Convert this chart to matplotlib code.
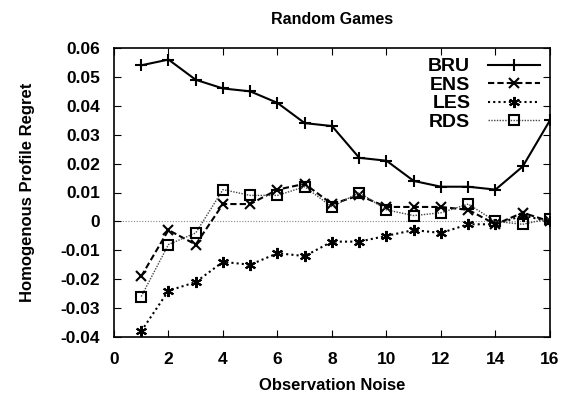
import matplotlib.pyplot as plt
import numpy as np

noise = list(range(1, 17))
bru = [0.054, 0.056, 0.049, 0.046, 0.045, 0.041, 0.034, 0.033, 0.022, 0.021, 0.014, 0.012, 0.012, 0.011, 0.019, 0.035]
ens = [-0.019, -0.003, -0.008, 0.006, 0.006, 0.011, 0.013, 0.006, 0.009, 0.005, 0.005, 0.005, 0.004, -0.001, 0.003, 0.0]
les = [-0.038, -0.024, -0.021, -0.014, -0.015, -0.011, -0.012, -0.007, -0.007, -0.005, -0.003, -0.004, -0.001, -0.001, 0.002, 0.0]
rds = [-0.026, -0.008, -0.004, 0.011, 0.009, 0.009, 0.012, 0.005, 0.010, 0.004, 0.002, 0.003, 0.006, 0.0, -0.001, 0.001]

plt.rcParams['font.family'] = 'Liberation Sans'
plt.rcParams['font.weight'] = 'bold'

fig = plt.figure(figsize=(5.71, 4.0), dpi=100)
ax = fig.add_axes([0.1996, 0.1575, 0.7636, 0.7225])

ax.axhline(0, color='#888888', lw=0.8, ls=(0, (1, 1.5)), zorder=1)
ax.plot(noise, bru, color='black', lw=1.5, ls='-', marker='+', ms=9, mew=1.5, label='BRU')
ax.plot(noise, ens, color='black', lw=1.5, ls=(0, (3, 1.5)), marker='x', ms=7, mew=1.5, label='ENS')
ax.plot(noise, les, color='black', lw=1.5, ls=(0, (1, 1.5)), marker=(6, 2, 0), ms=8, mew=1.5, label='LES')
ax.plot(noise, rds, color='#444444', lw=1.0, ls=(0, (1, 1)), marker='s', ms=7, mew=1.5,
        mfc='none', mec='black', label='RDS')

ax.set_xlim(0, 16)
ax.set_ylim(-0.04, 0.06)
ax.set_xticks(np.arange(0, 17, 2))
ax.set_yticks(np.arange(-0.04, 0.061, 0.01))
ax.set_yticklabels(['-0.04', '-0.03', '-0.02', '-0.01', '0', '0.01', '0.02', '0.03', '0.04', '0.05', '0.06'])
ax.tick_params(direction='in', top=True, right=True, labelsize=12.5, length=5)
ax.tick_params(axis='x', pad=11)
ax.tick_params(axis='y', pad=10)
for s in ax.spines.values():
    s.set_linewidth(1.2)

ax.set_title('Random Games', fontsize=11.5, fontweight='bold', pad=17)
ax.set_xlabel('Observation Noise', fontsize=12, fontweight='bold', labelpad=8)
ax.set_ylabel('Homogenous Profile Regret', fontsize=12, fontweight='bold', labelpad=18)

ax.legend(loc='upper right', frameon=False, markerfirst=False,
          handlelength=2.7, labelspacing=0.05, borderaxespad=0.1, handletextpad=0.9,
          prop={'weight': 'bold', 'size': 14})

fig.savefig('out.png', dpi=100)
